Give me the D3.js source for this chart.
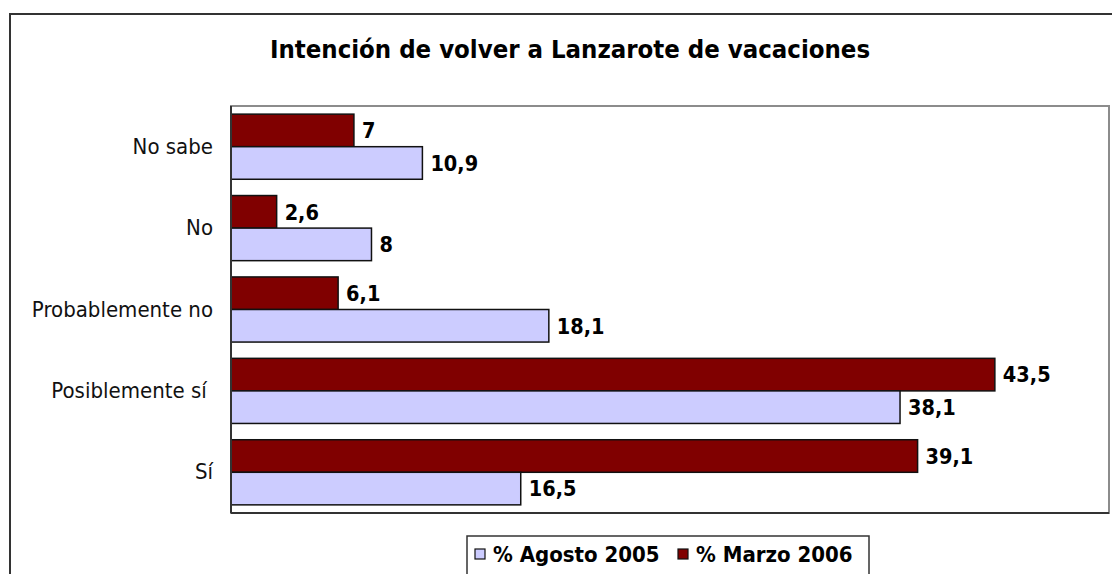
<!DOCTYPE html>
<html>
<head>
<meta charset="utf-8">
<script src="https://cdn.jsdelivr.net/npm/d3@7"></script>
<style>
body { margin: 0; background: #fff; }
text { font-family: "DejaVu Sans Condensed", "DejaVu Sans", sans-serif; }
</style>
</head>
<body>
<svg id="svg"></svg>
<script>
var width = 1112, height = 574;

var categories = ["No sabe", "No", "Probablemente no", "Posiblemente sí ", "Sí"];
var seriesNames = ["% Marzo 2006", "% Agosto 2005"];
var marzo2006 = [7, 2.6, 6.1, 43.5, 39.1];
var agosto2005 = [10.9, 8, 18.1, 38.1, 16.5];
var colors = ["#800000", "#ccccff"];

var svg = d3.select("#svg")
	.attr("width", width)
	.attr("height", height);

var plotLeft = 231, plotRight = 1109, plotTop = 106, plotBottom = 513;

// outer chart border
svg.append("rect")
	.attr("x", 10).attr("y", 14)
	.attr("width", 1120).attr("height", 600)
	.style("fill", "none")
	.style("stroke", "#333")
	.style("stroke-width", 2);

svg.append("text")
	.attr("x", 570)
	.attr("y", 58)
	.style("text-anchor", "middle")
	.style("font-weight", "bold")
	.style("font-size", "25.5px")
	.text("Intención de volver a Lanzarote de vacaciones");

var x = d3.scaleLinear()
	.domain([0, 50])
	.range([plotLeft, plotRight]);
var y = d3.scaleBand()
	.domain(categories)
	.range([plotTop, plotBottom])
	.paddingInner(0.2)
	.paddingOuter(0.1);
var y2 = d3.scaleBand()
	.domain(seriesNames)
	.range([0, y.bandwidth()]);

// plot area
svg.append("rect")
	.attr("x", plotLeft).attr("y", plotTop)
	.attr("width", plotRight - plotLeft).attr("height", plotBottom - plotTop)
	.style("fill", "#fff")
	.style("stroke", "#8c8c8c")
	.style("stroke-width", 2);

var data = [];
categories.forEach(function(c, i) {
	data.push({ cat: c, s: 0, v: marzo2006[i] });
	data.push({ cat: c, s: 1, v: agosto2005[i] });
});

var bar = svg.selectAll("g.bar")
	.data(data)
	.enter()
	.append("g")
	.attr("class", "bar");
bar.append("rect")
	.attr("x", x(0))
	.attr("y", function(d) { return y(d.cat) + y2(seriesNames[d.s]); })
	.attr("width", function(d) { return x(d.v) - x(0); })
	.attr("height", y2.bandwidth())
	.style("fill", function(d) { return colors[d.s]; })
	.style("stroke", "#111")
	.style("stroke-width", 1.5);
bar.append("text")
	.attr("x", function(d) { return x(d.v) + 8; })
	.attr("y", function(d) { return y(d.cat) + y2(seriesNames[d.s]) + y2.bandwidth() / 2; })
	.attr("dy", "0.36em")
	.style("font-weight", "bold")
	.style("font-size", "21.5px")
	.text(function(d) { return String(d.v).replace(".", ","); });

var yAxis = d3.axisLeft(y).tickSize(0).tickPadding(18);
var ga = svg.append("g")
	.attr("transform", "translate(" + plotLeft + ",0)")
	.call(yAxis);
ga.select(".domain").remove();
ga.selectAll("text")
	.style("font-size", "22px")
	.style("fill", "#111")
	.style("white-space", "pre")
	.style("font-family", "'DejaVu Sans Condensed', 'DejaVu Sans', sans-serif");

// axis lines
svg.append("line")
	.attr("x1", plotLeft).attr("x2", plotLeft)
	.attr("y1", plotTop).attr("y2", plotBottom)
	.style("stroke", "#333").style("stroke-width", 2);
svg.append("line")
	.attr("x1", plotLeft).attr("x2", plotRight)
	.attr("y1", plotBottom).attr("y2", plotBottom)
	.style("stroke", "#333").style("stroke-width", 2);

// legend
var lg = svg.append("g");
lg.append("rect")
	.attr("x", 467).attr("y", 536)
	.attr("width", 402).attr("height", 60)
	.style("fill", "#fff")
	.style("stroke", "#333")
	.style("stroke-width", 1.5);
var legendItems = [
	{ name: "% Agosto 2005", color: colors[1], x: 475 },
	{ name: "% Marzo 2006", color: colors[0], x: 678 }
];
legendItems.forEach(function(d) {
	lg.append("rect")
		.attr("x", d.x).attr("y", 549)
		.attr("width", 10).attr("height", 10)
		.style("fill", d.color)
		.style("stroke", "#111")
		.style("stroke-width", 1.2);
	lg.append("text")
		.attr("x", d.x + 18)
		.attr("y", 562)
		.style("font-weight", "bold")
		.style("font-size", "22px")
		.text(d.name);
});
</script>
</body>
</html>
